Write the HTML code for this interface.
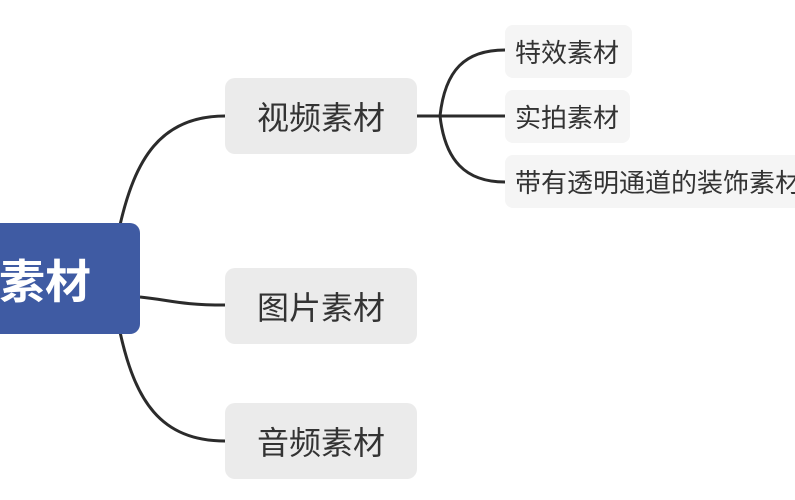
<!DOCTYPE html>
<html><head><meta charset="utf-8"><style>
body{margin:0;width:795px;height:500px;background:#fff;overflow:hidden;position:relative;font-family:"Liberation Sans","Noto Sans CJK SC",sans-serif}
.n{position:absolute;display:flex;align-items:center;box-sizing:border-box}
.m{background:#ebebeb;border-radius:10px;font-size:32px;color:#333;justify-content:center;width:192px;height:76px;left:225px}
.s{background:#f5f5f5;border-radius:8px;font-size:26px;color:#333;padding-left:10px;height:53px;left:505px}
</style></head><body>
<svg width="795" height="500" style="position:absolute;left:0;top:0">
<g fill="none" stroke="#2b2b2b" stroke-width="3">
<path d="M120 225 C135 160 160 116 225 116"/>
<path d="M140 297 C170 300 180 305 225 305"/>
<path d="M120 332 C135 400 160 441 225 441"/>
<path d="M417 116 L505 116"/>
<path d="M440 116 C445 70 465 50 505 50"/>
<path d="M440 116 C445 160 465 182 505 182"/>
</g></svg>
<div class="n" style="left:-30px;top:223px;width:170px;height:111px;background:#3f5ba3;border-radius:10px;color:#fff;font-size:46px;font-weight:bold;padding-left:29px">素材</div>
<div class="n m" style="top:78px">视频素材</div>
<div class="n m" style="top:268px">图片素材</div>
<div class="n m" style="top:403px">音频素材</div>
<div class="n s" style="top:25px;width:127px">特效素材</div>
<div class="n s" style="top:90px;width:125px">实拍素材</div>
<div class="n s" style="top:155px;width:310px;white-space:nowrap">带有透明通道的装饰素材</div>
</body></html>
